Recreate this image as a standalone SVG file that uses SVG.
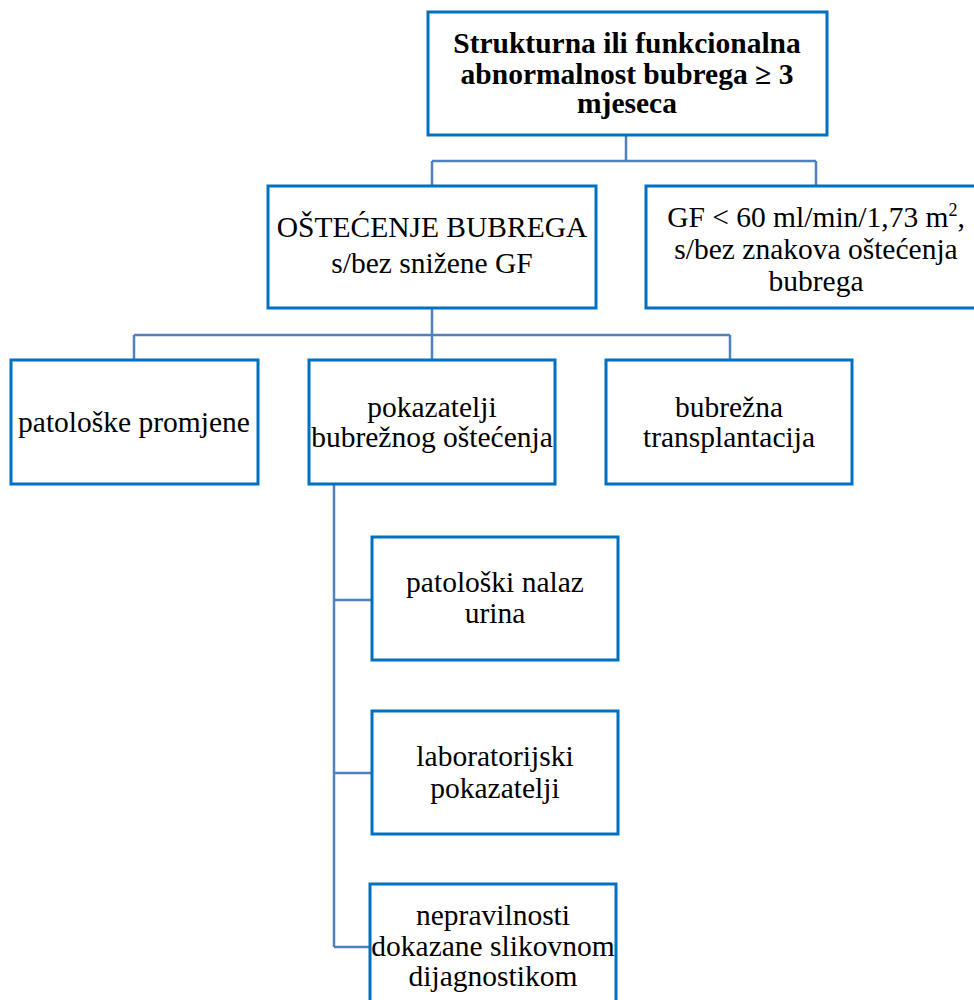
<svg xmlns="http://www.w3.org/2000/svg" width="974" height="1000" viewBox="0 0 974 1000">
<style>
.box{fill:#fff;stroke:#0070C0;stroke-width:3}
.t{font-family:"Liberation Serif","Times New Roman",serif;font-size:29.5px;fill:#000;text-anchor:middle}
.b{font-weight:bold}
.c{fill:none;stroke:#4F81BD;stroke-width:2.5}
</style>
<rect width="974" height="1000" fill="#fff"/>
<g id="connectors">
<path class="c" d="M626 135V161M432 161H816M432 161V186M816 161V186"/>
<path class="c" d="M432 308V335M134 335H730M134 335V360M432 335V360M730 335V360"/>
<path class="c" d="M334 484V947M334 600H372M334 773H372M334 947H370"/>
</g>
<g id="root">
<rect class="box" x="428" y="12" width="399" height="123"/>
<text class="t b" x="627" y="53">Strukturna ili funkcionalna</text>
<text class="t b" x="627" y="84">abnormalnost bubrega ≥ 3</text>
<text class="t b" x="627" y="113">mjeseca</text>
</g>
<g id="ostecenje">
<rect class="box" x="268" y="186" width="328" height="122"/>
<text class="t" x="432" y="237">OŠTEĆENJE BUBREGA</text>
<text class="t" x="432" y="273">s/bez snižene GF</text>
</g>
<g id="gf">
<rect class="box" x="646" y="186" width="340" height="122"/>
<text class="t" x="816" y="227">GF &lt; 60 ml/min/1,73 m<tspan font-size="18" dy="-11">2</tspan><tspan dy="11">,</tspan></text>
<text class="t" x="816" y="259">s/bez znakova oštećenja</text>
<text class="t" x="816" y="291">bubrega</text>
</g>
<g id="patoloske">
<rect class="box" x="11" y="360" width="247" height="124"/>
<text class="t" x="134" y="432">patološke promjene</text>
</g>
<g id="pokazatelji">
<rect class="box" x="309" y="360" width="246" height="124"/>
<text class="t" x="432" y="417">pokazatelji</text>
<text class="t" x="432" y="447">bubrežnog oštećenja</text>
</g>
<g id="transplantacija">
<rect class="box" x="606" y="360" width="246" height="124"/>
<text class="t" x="729" y="417">bubrežna</text>
<text class="t" x="729" y="447">transplantacija</text>
</g>
<g id="urin">
<rect class="box" x="372" y="537" width="246" height="123"/>
<text class="t" x="495" y="592">patološki nalaz</text>
<text class="t" x="495" y="623">urina</text>
</g>
<g id="lab">
<rect class="box" x="372" y="711" width="246" height="123"/>
<text class="t" x="495" y="766">laboratorijski</text>
<text class="t" x="495" y="798">pokazatelji</text>
</g>
<g id="slikovna">
<rect class="box" x="370" y="884" width="246" height="130"/>
<text class="t" x="493" y="925">nepravilnosti</text>
<text class="t" x="493" y="956">dokazane slikovnom</text>
<text class="t" x="493" y="986">dijagnostikom</text>
</g>
</svg>
